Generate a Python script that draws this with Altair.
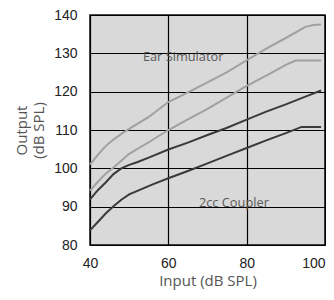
import altair as alt
import pandas as pd

# Ear Simulator (upper / lower), 2cc Coupler (upper / lower)
ear_hi_x = [40, 42, 44, 46, 48, 50, 55, 60, 65, 70, 75, 80, 85, 90, 95, 97, 99]
ear_hi_y = [101, 103.5, 105.8, 107.5, 109, 110.3, 113.4, 117.3, 119.8, 122.4, 125.1, 128.2, 131.2, 134, 136.9, 137.4, 137.5]

ear_lo_x = [40, 42, 44, 46, 48, 50, 55, 60, 65, 70, 75, 80, 85, 90, 92.5, 99]
ear_lo_y = [94.2, 96.5, 98.6, 100.2, 102, 103.8, 106.8, 110, 112.8, 115.5, 118.5, 121.5, 124.2, 127, 128.1, 128.1]

cc_hi_x = [40, 42, 44, 46, 48, 50, 52, 55, 60, 65, 70, 75, 80, 85, 90, 95, 99]
cc_hi_y = [91.9, 94.3, 96.3, 98.5, 100, 100.9, 101.6, 102.8, 104.9, 106.7, 108.7, 110.6, 112.7, 114.8, 116.7, 118.7, 120.3]

cc_lo_x = [40, 42, 44, 46, 48, 50, 53, 56, 60, 65, 70, 75, 80, 85, 90, 94, 99]
cc_lo_y = [83.8, 86, 88.2, 90.1, 91.8, 93.2, 94.5, 95.8, 97.4, 99.3, 101.3, 103.3, 105.3, 107.3, 109.2, 110.8, 110.8]

label_text = ["Ear Simulator", "2cc Coupler"]
label_x = [53.5, 67.8]
label_y = [128.1, 90.0]

x_ticks = [40, 60, 80, 100]
y_ticks = [80, 90, 100, 110, 120, 130, 140]

rows = []
for name, xs, ys in [("ear_hi", ear_hi_x, ear_hi_y), ("ear_lo", ear_lo_x, ear_lo_y),
                     ("cc_hi", cc_hi_x, cc_hi_y), ("cc_lo", cc_lo_x, cc_lo_y)]:
    for i, (a, b) in enumerate(zip(xs, ys)):
        rows.append({"series": name, "x": a, "y": b, "i": i})
df = pd.DataFrame(rows)
labels = pd.DataFrame({"t": label_text, "x": label_x, "y": label_y})

xs = alt.Scale(domain=[40, 100], nice=False, zero=False)
ys = alt.Scale(domain=[80, 140], nice=False, zero=False)

x_axis = alt.Axis(values=x_ticks, grid=True, gridColor="#000000", gridOpacity=1,
                  gridWidth=1.2, ticks=False, domain=False, labelPadding=11,
                  labelFontSize=14, titleFontSize=15, titlePadding=3,
                  titleFontWeight="normal", labelColor="#222222",
                  titleColor="#555555", labelFont="Liberation Sans",
                  titleFont="Open Sans", labelFlush=False, labelOverlap=False,
                  labelAlign=alt.condition("datum.value == 100", alt.value("right"), alt.value("center")))
y_axis = alt.Axis(values=y_ticks, grid=True, gridColor="#000000", gridOpacity=1,
                  gridWidth=1.2, ticks=False, domain=False, labelPadding=13,
                  labelFontSize=14, titleFontSize=15, titlePadding=7,
                  titleFontWeight="normal", labelColor="#222222",
                  titleColor="#555555", labelFont="Liberation Sans",
                  titleFont="Open Sans", labelFlush=False, labelOverlap=False)

lines = alt.Chart(df).mark_line(strokeWidth=2).encode(
    x=alt.X("x:Q", scale=xs, title="Input (dB SPL)", axis=x_axis),
    y=alt.Y("y:Q", scale=ys, title=["Output", "(dB SPL)"], axis=y_axis),
    color=alt.Color("series:N", legend=None,
                    scale=alt.Scale(domain=["ear_hi", "ear_lo", "cc_hi", "cc_lo"],
                                    range=["#a0a0a0", "#a0a0a0", "#3a3a3a", "#3a3a3a"])),
    order="i:Q",
)

text = alt.Chart(labels).mark_text(align="left", baseline="alphabetic", fontSize=12.8,
                                   font="Open Sans", color="#5a5a5a").encode(
    x=alt.X("x:Q", scale=xs, title="Input (dB SPL)", axis=x_axis),
    y=alt.Y("y:Q", scale=ys, title=["Output", "(dB SPL)"], axis=y_axis),
    text="t:N")

chart = (lines + text).properties(
    width=235, height=230,
    autosize=alt.AutoSizeParams(type="none"),
    padding={"left": 82, "top": 7, "right": 1, "bottom": 47},
).configure_view(fill="#d9d9d9", stroke="#111111", strokeWidth=1.5)

chart.save("out.html", embed_options={"renderer": "svg", "actions": False})
